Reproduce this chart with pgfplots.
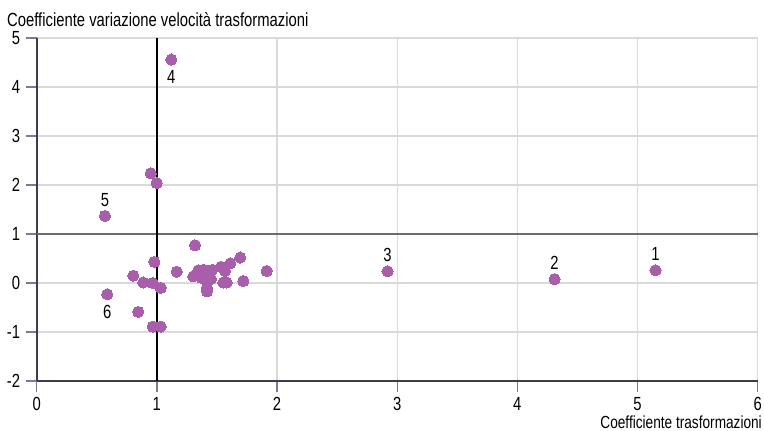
\documentclass[border=0pt]{standalone}
\usepackage{pgfplots}
\pgfplotsset{compat=1.18}
\usepackage{fontspec}
\setmainfont{Liberation Sans}[FakeStretch=0.78]
\definecolor{pt}{HTML}{A85EAA}
\definecolor{gridc}{HTML}{D9D9D9}
\definecolor{axc}{HTML}{3C3C50}
\definecolor{tickc}{HTML}{7A7AA0}
\begin{document}
\fontsize{19bp}{21bp}\selectfont
\begin{tikzpicture}
\clip (0,0) rectangle (764bp,431bp);
\path[use as bounding box] (0,0) rectangle (764bp,431bp);
\begin{axis}[
  at={(36.7bp,50bp)}, anchor=south west,
  scale only axis, width=721bp, height=343bp,
  xmin=0, xmax=6, ymin=-2, ymax=5,
  xtick={0,...,6}, ytick={-2,...,5},
  axis x line=bottom, axis y line=left,
  axis line style={-, axc, line width=1.6bp},
  tick align=outside,
  major tick length=11bp,
  tick style={tickc, line width=1.3bp},
  xmajorgrids=true, ymajorgrids=true,
  major grid style={gridc, line width=1.4bp},
  /pgf/number format/assume math mode=true,
  tick label style={font=\fontsize{19bp}{21bp}\selectfont, text=black},
  xticklabel style={yshift=1bp},
  yticklabel style={xshift=1bp},
  clip=false,
]
\draw[gray!85!black, line width=1.5bp] (axis cs:0,1) -- (axis cs:6,1);
\draw[black, line width=1.4bp] (axis cs:1,-2) -- (axis cs:1,5);
\addplot[only marks, mark=*, mark size=5.6bp, mark options={fill=pt, draw=pt, line width=0pt}] coordinates {
(5.15,0.26) (4.31,0.08) (2.92,0.24) (1.12,4.56) (0.568,1.37) (0.587,-0.23)
(0.949,2.24) (0.999,2.04)
(1.317,0.77) (1.694,0.52) (1.611,0.40) (1.534,0.33) (1.914,0.245)
(1.165,0.23) (1.345,0.26) (1.392,0.27) (1.461,0.27) (1.567,0.245)
(1.303,0.135) (1.373,0.10) (1.450,0.08) (1.719,0.04) (1.553,0.01) (1.581,0.01)
(1.417,-0.17) (1.417,-0.10)
(0.804,0.15) (0.887,0.01) (0.965,0.0) (1.032,-0.10) (0.979,0.43)
(0.845,-0.59) (0.965,-0.89) (1.032,-0.89)
};
\node[anchor=south, inner sep=0pt] at (axis cs:5.15,0.45) {1};
\node[anchor=south, inner sep=0pt] at (axis cs:4.31,0.27) {2};
\node[anchor=south, inner sep=0pt] at (axis cs:2.92,0.43) {3};
\node[anchor=north, inner sep=0pt] at (axis cs:1.12,4.35) {4};
\node[anchor=south, inner sep=0pt] at (axis cs:0.568,1.56) {5};
\node[anchor=north, inner sep=0pt] at (axis cs:0.587,-0.44) {6};
\end{axis}
\node[anchor=base west, inner sep=0pt] at (7bp,404bp) {Coefficiente variazione velocità trasformazioni};
\node[anchor=base east, inner sep=0pt, font=\fontsize{17.5bp}{19bp}\selectfont] at (762bp,2.5bp) {Coefficiente trasformazioni};
\end{tikzpicture}
\end{document}
